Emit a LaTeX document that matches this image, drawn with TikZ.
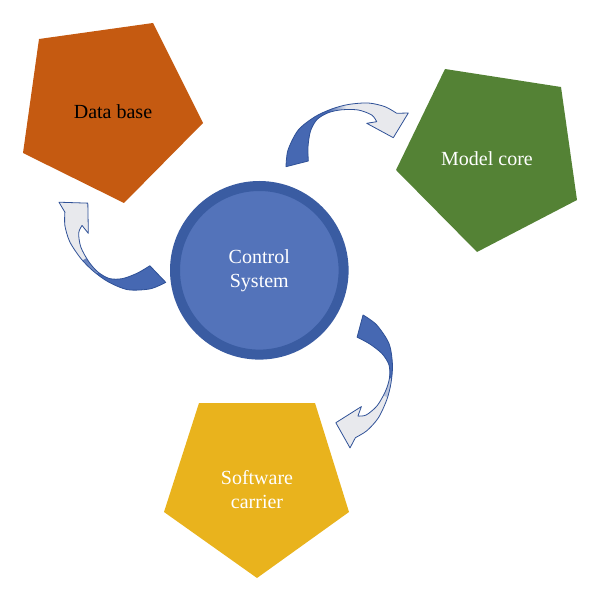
\documentclass[tikz,border=0pt]{standalone}
\usepackage{fontspec}
\setmainfont{Liberation Serif}
\usetikzlibrary{calc}
\definecolor{Rust}{HTML}{C55A11}
\definecolor{Moss}{HTML}{548235}
\definecolor{Amber}{HTML}{E9B31D}
\definecolor{HubFill}{HTML}{5373BA}
\definecolor{HubRing}{HTML}{3A5CA2}
\definecolor{SwooshBlue}{HTML}{4668B2}
\definecolor{SwooshLight}{HTML}{E8E9ED}
\definecolor{SwooshEdge}{HTML}{2F5197}
\newcommand{\swooshpath}{(-10,2.7) -- plot[smooth] coordinates {(-10,2.7) (-8,-14) (2.3,-34) (19,-47.3) (35.7,-55) (52.3,-59.5) (72.3,-61) (89,-57.3) (100.7,-50.7)}
  -- (112.3,-51) -- (97.3,-26.3) -- (70.7,-40.7) -- (80.7,-42.3)
  -- plot[smooth] coordinates {(80.7,-42.3) (75.7,-49) (62.3,-54) (45.7,-54.2) (32.3,-51.3) (21,-44.5) (14.5,-33) (12,-17.3) (12.3,-3)} -- cycle}
\tikzset{
  tag/.style={font=\fontsize{20}{24}\selectfont, align=center, inner sep=0pt},
  hub/.style={
    circle, fill=HubFill, draw=HubRing, line width=10pt,
    minimum size=168.6pt, inner sep=0pt, text=white, align=center,
    font=\fontsize{20}{24}\selectfont
  },
  swoosh/.pic={
    \fill[SwooshLight] \swooshpath;
    \begin{scope}
      \clip \swooshpath;
      \fill[SwooshBlue] (-30,-80) rectangle (32,20);
      \shade[left color=SwooshBlue, right color=SwooshLight] (32,-80) rectangle (50,20);
    \end{scope}
    \draw[SwooshEdge, line width=0.8pt, line join=round] \swooshpath;
  }
}
\begin{document}
\begin{tikzpicture}[x=1pt,y=-1pt]
  \useasboundingbox (0,0) rectangle (600,601);
  % pentagons
  \fill[Rust] (39,39) -- (153,23) -- (203,123) -- (124,203) -- (23,153) -- cycle;
  \fill[Moss] (445,69) -- (561,87) -- (577,200) -- (477,252) -- (396,170) -- cycle;
  \fill[Amber] (199,403) -- (315,403) -- (349,512) -- (257,578) -- (164,512) -- cycle;
  \node[tag] (base) at (113,111.5) {Data base};
  \node[tag,text=white] (core) at (487,159) {Model core};
  \node[tag,text=white] (carrier) at (257,489.5) {Software\\carrier};
  % hub
  \node[hub] (control) at (259.3,270.3) {Control\\System};
  % curved arrows
  \pic at (296,164) {swoosh};
  \pic[rotate=119.4] at (158.5,275) {swoosh};
  \pic[rotate=-119.3] at (360.5,325) {swoosh};
\end{tikzpicture}
\end{document}
